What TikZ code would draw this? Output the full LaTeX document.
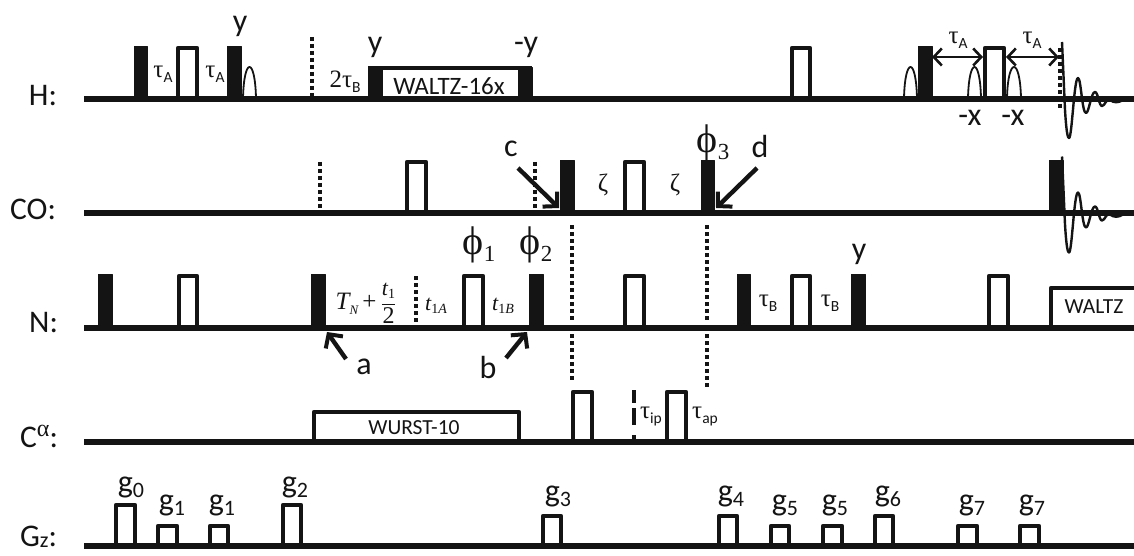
\documentclass[tikz,border=0pt]{standalone}
\usepackage{fontspec}
\usepackage{graphicx}
\setmainfont{Carlito}
\newfontfamily\ser{Liberation Serif}
\usetikzlibrary{arrows.meta}
\definecolor{ink}{HTML}{141414}
\tikzset{
  base line/.style={draw=ink,line width=5.8pt},
  white pulse/.style={draw=ink,line width=3.6pt,line join=round},
  black pulse/.style={fill=ink,draw=ink,line width=0.6pt,line join=round},
  shaped pulse/.style={draw=ink,line width=1.8pt},
  dots/.style={draw=ink,line width=4pt,dash pattern=on 3.8pt off 3.2pt},
  big arrow/.style={draw=ink,line width=4.4pt,-{Straight Barb[length=10pt,width=21pt,line width=4pt]}},
  span arrow/.style={draw=ink,line width=2.4pt,{Straight Barb[length=8pt,width=17pt,line width=2.6pt]}-{Straight Barb[length=8pt,width=17pt,line width=2.6pt]}},
  fid/.style={draw=ink,line width=2.4pt,line join=round},
  lab/.style={inner sep=0pt,outer sep=0pt,text=ink,font=\fontsize{32}{32}\selectfont},
  chan/.style={inner sep=0pt,outer sep=0pt,text=ink,anchor=base east,font=\fontsize{31.5}{31.5}\selectfont},
  mid/.style={inner sep=0pt,outer sep=0pt,text=ink,font=\fontsize{22}{22}\selectfont},
}
\newcommand{\wpulse}[4]{\draw[white pulse] ({#1+1.8},#4) -- ({#1+1.8},{#3+1.8}) -- ({#2-1.8},{#3+1.8}) -- ({#2-1.8},#4);}
\newcommand{\bpulse}[4]{\fill[black pulse] (#1,#4) rectangle (#2,#3);}
\newcommand{\hump}[4]{\draw[shaped pulse] (#1,#4) .. controls ({#1+1},{#4-(#4-#3)*4/3}) and ({#2-1},{#4-(#4-#3)*4/3}) .. (#2,#4);}
\newcommand{\taulab}[1]{{\ser\fontsize{25}{25}\selectfont τ}\raisebox{-5pt}{\fontsize{15.5}{15.5}\selectfont #1}}
\newcommand{\glab}[1]{g\raisebox{-5pt}{\fontsize{22}{22}\selectfont #1}}
\newcommand{\philab}[1]{{\ser\fontsize{40}{40}\selectfont ϕ}\raisebox{-7pt}{\ser\fontsize{23}{23}\selectfont #1}}
\newcommand{\smit}[1]{\mbox{\ser\itshape #1}}
\newcommand{\fidcurve}{(1062,42) -- (1065,110) .. controls (1066.5,135) and (1068,138) .. (1069,138) .. controls (1072,138) and (1074,78) .. (1078,78) .. controls (1081,78) and (1082,113) .. (1086,113) .. controls (1089,113) and (1091,92) .. (1095,92) .. controls (1098,92) and (1099,106) .. (1102,106) .. controls (1105,106) and (1106,98) .. (1110,100) .. controls (1114,103) and (1118,103) .. (1123,100)}
\begin{document}
\begin{tikzpicture}[x=1pt,y=-1pt]
\clip (0,0) rectangle (1134,556);
\fill[white] (0,0) rectangle (1134,556);

% base lines
\coordinate (hs) at (84,99);  \coordinate (he) at (1134,99);
\coordinate (cs) at (84,213); \coordinate (ce) at (1134,213);
\coordinate (ns) at (84,328); \coordinate (ne) at (1134,328);
\coordinate (as) at (84,442); \coordinate (ae) at (1134,442);
\coordinate (gs) at (84,546); \coordinate (ge) at (1134,546);
\draw[base line] (hs)--(he);
\draw[base line] (cs)--(ce);
\draw[base line] (ns)--(ne);
\draw[base line] (as)--(ae);
\draw[base line] (gs)--(ge);

% channel labels
\node[chan] (lh) at (57,106) {H:};
\node[chan] (lc) at (56,219.5) {CO:};
\node[chan] (ln) at (58,332.5) {N:};
\node[chan] (la) at (58,447) {C\raisebox{11pt}{\ser\fontsize{24}{24}\selectfont α}:};
\node[chan] (lg) at (57,546.5) {G\raisebox{-1pt}{\fontsize{22}{22}\selectfont z}:};

% H channel
\bpulse{134}{147}{46}{98}
\wpulse{176}{199}{46}{98}
\bpulse{227}{241}{46}{98}
\hump{243}{256}{67}{98}
\draw[dots] (312,37) -- (312,97);
\bpulse{368}{382}{67}{98}
\bpulse{518}{532}{67}{98}
\fill[ink] (368,66.5) rectangle (532,70.5);
\wpulse{790}{812}{46}{98}
\hump{904}{917}{67}{98}
\bpulse{918}{932}{46}{98}
\hump{968}{981}{67}{98}
\wpulse{983}{1006}{46}{98}
\hump{1007}{1021}{67}{98}
\draw[dots] (1060,48) -- (1060,110);
\draw[fid] \fidcurve;
\coordinate (sa1) at (932,57); \coordinate (sa2) at (983,57);
\coordinate (sb1) at (1006,57); \coordinate (sb2) at (1059,57);
\draw[span arrow] (sa1) -- (sa2);
\draw[span arrow] (sb1) -- (sb2);

\node[mid] (t1) at (163,74) {\taulab{A}};
\node[mid] (t2) at (215,74) {\taulab{A}};
\node[lab] (y1) at (240,26) {y};
\node[mid] (t3) at (345,82) {{\ser\fontsize{25}{25}\selectfont 2τ}\raisebox{-5pt}{\fontsize{15.5}{15.5}\selectfont B}};
\node[lab] (y2) at (375,47) {y};
\node[lab] (y3) at (526,47) {-y};
\node[mid,font=\fontsize{25}{25}\selectfont] (w1) at (449,86) {WALTZ-16x};
\node[mid] (t4) at (958,40) {\taulab{A}};
\node[mid] (t5) at (1032,40) {\taulab{A}};
\node[lab] (x1) at (970,118) {-x};
\node[lab] (x2) at (1013,118) {-x};

% CO channel
\draw[dots] (320,162) -- (320,208);
\wpulse{405}{428}{160}{212}
\draw[dots] (535,162) -- (535,208);
\bpulse{560}{574}{160}{212}
\wpulse{623}{646}{160}{212}
\bpulse{701}{714}{160}{212}
\bpulse{1049}{1063}{160}{212}
\begin{scope}[yshift=-114.5pt]
\draw[fid] \fidcurve;
\end{scope}
\node[lab] (c) at (511,149) {c};
\node[lab] (d) at (760,147) {d};
\node[mid] (z1) at (603,185) {{\ser\fontsize{25}{25}\selectfont ζ}};
\node[mid] (z2) at (675,185) {{\ser\fontsize{25}{25}\selectfont ζ}};
\node[mid] (p3) at (713,143) {\philab{3}};
\coordinate (cS) at (518,168); \coordinate (cE) at (559,208);
\coordinate (dS) at (757,168); \coordinate (dE) at (716,208);
\draw[big arrow] (cS) -- (cE);
\draw[big arrow] (dS) -- (dE);

% long dotted lines
\draw[dots] (572,225) -- (572,321);
\draw[dots] (572,334) -- (572,381);
\draw[dots] (707,225) -- (707,321);
\draw[dots] (707,334) -- (707,388);

% N channel
\bpulse{98}{112}{274}{327}
\wpulse{177}{199}{274}{327}
\bpulse{311}{325}{274}{327}
\draw[dots] (416,276) -- (416,325);
\wpulse{462}{485}{274}{327}
\bpulse{529}{543}{274}{327}
\wpulse{623}{646}{274}{327}
\bpulse{737}{750}{274}{327}
\wpulse{790}{812}{274}{327}
\bpulse{851}{865}{274}{327}
\wpulse{987}{1010}{274}{327}
\draw[white pulse] (1050.8,327) -- (1050.8,287.8) -- (1140,287.8);
\node[mid] (tn) at (366,303) {$\displaystyle \smit{\fontsize{25}{25}\selectfont T}\raisebox{-5pt}{\smit{\fontsize{13}{13}\selectfont N}}\mbox{\ser\fontsize{25}{25}\selectfont\,+\,}\frac{\smit{\fontsize{22}{22}\selectfont t}\raisebox{-3pt}{\mbox{\ser\fontsize{14}{14}\selectfont 1}}}{\mbox{\ser\fontsize{24}{24}\selectfont 2}}$};
\node[mid] (ta) at (436,306) {\smit{\fontsize{22}{22}\selectfont t}\raisebox{-3pt}{\mbox{\ser\fontsize{14}{14}\selectfont 1\itshape A}}};
\node[mid] (tb) at (503,306) {\smit{\fontsize{22}{22}\selectfont t}\raisebox{-3pt}{\mbox{\ser\fontsize{14}{14}\selectfont 1\itshape B}}};
\node[mid] (p1) at (479,245) {\philab{1}};
\node[mid] (p2) at (536,245) {\philab{2}};
\node[mid] (t6) at (768,303) {\taulab{B}};
\node[mid] (t7) at (830,303) {\taulab{B}};
\node[lab] (y4) at (859,254) {y};
\node[mid,font=\fontsize{21.5}{21.5}\selectfont] (w2) at (1094,307) {WALTZ};
\node[lab] (a) at (364,367) {a};
\node[lab] (b) at (488,367) {b};
\coordinate (aS) at (346,359); \coordinate (aE) at (327,332);
\coordinate (bS) at (506,358); \coordinate (bE) at (527,332);
\draw[big arrow] (aS) -- (aE);
\draw[big arrow] (bS) -- (bE);

% C-alpha channel
\wpulse{312}{521}{410}{441}
\node[mid,font=\fontsize{21.5}{21.5}\selectfont] (w3) at (414,428) {WURST-10};
\wpulse{571}{594}{390}{441}
\draw[ink,line width=3.6pt,dash pattern=on 13pt off 5pt on 17pt off 10pt on 5pt off 50pt] (634,390) -- (634,440);
\wpulse{665}{688}{390}{441}
\node[mid] (t8) at (651,417) {\taulab{ip}};
\node[mid] (t9) at (705,417) {\taulab{ap}};

% gradients
\wpulse{114}{137}{503}{545}
\wpulse{156}{179}{524}{545}
\wpulse{208}{230}{524}{545}
\wpulse{281}{303}{503}{545}
\wpulse{541}{563}{514}{545}
\wpulse{717}{739}{514}{545}
\wpulse{769}{791}{524}{545}
\wpulse{821}{844}{524}{545}
\wpulse{873}{895}{514}{545}
\wpulse{956}{979}{524}{545}
\wpulse{1018}{1041}{524}{545}
\node[lab] (g0) at (131,487) {\glab{0}};
\node[lab] (g1a) at (172,505) {\glab{1}};
\node[lab] (g1b) at (222,505) {\glab{1}};
\node[lab] (g2) at (295,487) {\glab{2}};
\node[lab] (g3) at (558,496) {\glab{3}};
\node[lab] (g4) at (731,496) {\glab{4}};
\node[lab] (g5a) at (785,505) {\glab{5}};
\node[lab] (g5b) at (835,505) {\glab{5}};
\node[lab] (g6) at (888,496) {\glab{6}};
\node[lab] (g7a) at (972,505) {\glab{7}};
\node[lab] (g7b) at (1032,505) {\glab{7}};
\end{tikzpicture}
\end{document}
